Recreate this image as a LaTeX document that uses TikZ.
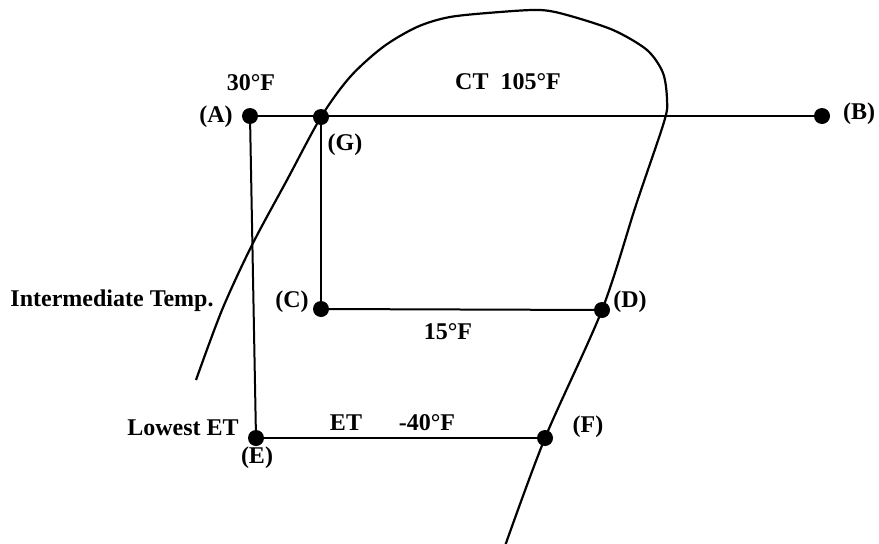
\documentclass[tikz,border=0pt]{standalone}
\usepackage{fontspec}
\setmainfont{Liberation Serif}
\usepackage{tikz}

\begin{document}
\begin{tikzpicture}[
    x=1pt, y=-1pt,
    state/.style={circle, fill=black, inner sep=0pt, minimum size=16pt},
    proc/.style={line width=2pt},
    dome/.style={line width=2.2pt, line join=round},
    lab/.style={font=\fontsize{24}{29}\selectfont\bfseries, inner sep=0pt},
  ]
  \useasboundingbox (0,0) rectangle (879,544);

  % saturation dome
  \draw[dome] plot[smooth, tension=0.5] coordinates {
    (196,380) (222,310) (252,245) (287,180) (321,117) (350,77) (383,47)
    (417,27) (450,17) (500,12) (540,10) (567,15) (613,30) (647,50)
    (663,73) (667,100) (664,122) (636,205) (602,310) (545,438) (505,546)};

  % state points
  \node[state] (A) at (250,116) {};
  \node[state] (G) at (321,117) {};
  \node[state] (B) at (822,116) {};
  \node[state] (C) at (321,309) {};
  \node[state] (D) at (602,310) {};
  \node[state] (E) at (256,438) {};
  \node[state] (F) at (545,438) {};

  % process lines
  \draw[proc] (A.center) -- (B.center);
  \draw[proc] (A.center) -- (E.center);
  \draw[proc] (G.center) -- (C.center);
  \draw[proc] (C.center) -- (D.center);
  \draw[proc] (E.center) -- (F.center);

  % point names
  \node[lab] (nA) at (216,117) {(A)};
  \node[lab] (nB) at (859,114) {(B)};
  \node[lab] (nG) at (345,145) {(G)};
  \node[lab] (nC) at (292,302) {(C)};
  \node[lab] (nD) at (630,302) {(D)};
  \node[lab] (nE) at (257,458) {(E)};
  \node[lab] (nF) at (588,427) {(F)};

  % temperatures
  \node[lab] (tA) at (251,83) {30°F};
  \node[lab] (tCT) at (508,82) {CT\hspace{0.5em}105°F};
  \node[lab] (tInt) at (112,301) {Intermediate Temp.};
  \node[lab] (tD) at (448,332) {15°F};
  \node[lab] (tLow) at (183,428) {Lowest ET};
  \node[lab] (tET) at (346,423) {ET};
  \node[lab] (tF) at (427,423) {-40°F};

\end{tikzpicture}
\end{document}
